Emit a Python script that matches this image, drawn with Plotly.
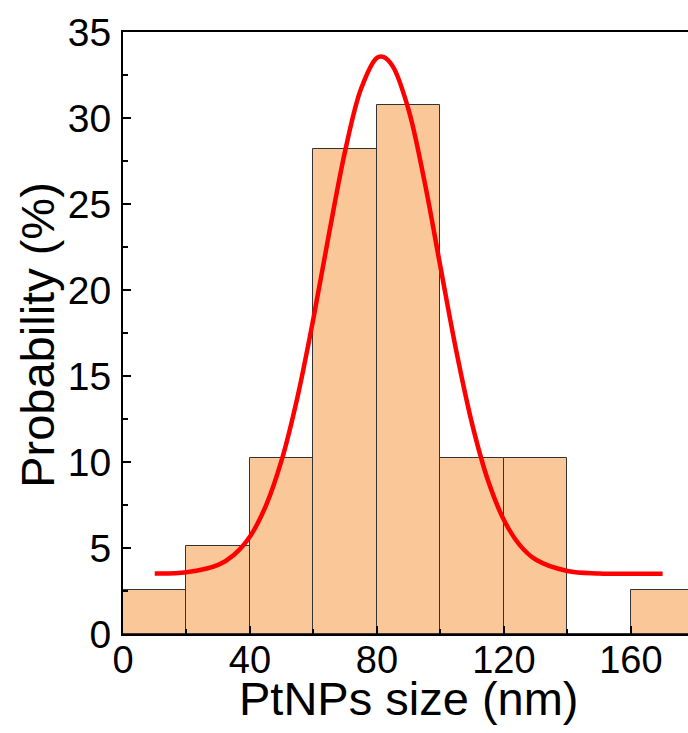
import plotly.graph_objects as go

# Histogram data (bin left edges, width 20 nm) and probability (%)
bin_left = [0, 20, 40, 60, 80, 100, 120, 140, 160]
bin_width = 20
probability = [2.56, 5.13, 10.26, 28.21, 30.77, 10.26, 10.26, 0.0, 2.56]

# Gaussian fit curve
fit_x = [10, 20, 30, 35, 40, 45, 50, 55, 60, 65, 70, 75, 80, 82, 85, 90, 95,
         100, 105, 110, 115, 120, 125, 130, 140, 150, 160, 170]
fit_y = [3.52, 3.59, 4.02, 4.61, 5.67, 7.45, 10.12, 13.8, 18.36, 23.36, 28.1,
         31.7, 33.5, 33.55, 33.0, 30.46, 26.3, 21.35, 16.45, 12.2, 8.92, 6.63,
         5.17, 4.33, 3.66, 3.52, 3.5, 3.5]

x_ticks = [0, 40, 80, 120, 160]
y_ticks = [0, 5, 10, 15, 20, 25, 30, 35]
x_title = "PtNPs size (nm)"
y_title = "Probability (%)"

bin_centers = [b + bin_width / 2 for b in bin_left]

fig = go.Figure()
fig.add_trace(go.Bar(
    x=bin_centers, y=probability, width=[bin_width] * len(bin_left),
    marker=dict(color="#FAC898", line=dict(color="#333333", width=1)),
    showlegend=False,
))
fig.add_trace(go.Scatter(
    x=fit_x, y=fit_y, mode="lines", line=dict(color="#FF0000", width=4.5, shape="spline"),
    showlegend=False,
))

font_family = "Liberation Sans, Arial, sans-serif"
fig.update_layout(
    width=688, height=733,
    margin=dict(l=123, r=0, t=32, b=99),
    paper_bgcolor="white", plot_bgcolor="white",
    bargap=0,
    font=dict(family=font_family, color="black"),
    xaxis=dict(
        range=[0, 178], tickvals=x_ticks, ticktext=[str(v) for v in x_ticks],
        ticks="inside", ticklen=8, tickwidth=1.5, tickcolor="black",
        minor=dict(dtick=20, tick0=0, ticks="inside", ticklen=5, tickwidth=1.5, tickcolor="black"),
        showline=True, linecolor="black", linewidth=2, mirror=True,
        showgrid=False, zeroline=False,
        tickfont=dict(size=38, family=font_family),
        ticklabelstandoff=-9,
    ),
    yaxis=dict(
        range=[0, 35], tickvals=y_ticks, ticktext=[str(v) for v in y_ticks],
        ticks="inside", ticklen=8, tickwidth=1.5, tickcolor="black",
        minor=dict(dtick=2.5, tick0=0, ticks="inside", ticklen=5, tickwidth=1.5, tickcolor="black"),
        showline=True, linecolor="black", linewidth=2, mirror=False,
        showgrid=False, zeroline=False,
        tickfont=dict(size=39, family=font_family),
        ticklabelstandoff=2,
    ),
    annotations=[
        dict(text=x_title, xref="paper", yref="paper", x=0.506, y=0,
             xanchor="center", yanchor="middle", yshift=-64, showarrow=False,
             font=dict(size=47, family=font_family, color="black")),
        dict(text=y_title, xref="paper", yref="paper", x=0, y=0.497,
             xanchor="center", yanchor="middle", xshift=-85, textangle=-90,
             showarrow=False, font=dict(size=47, family=font_family, color="black")),
    ],
)

fig.write_html("out.html")
